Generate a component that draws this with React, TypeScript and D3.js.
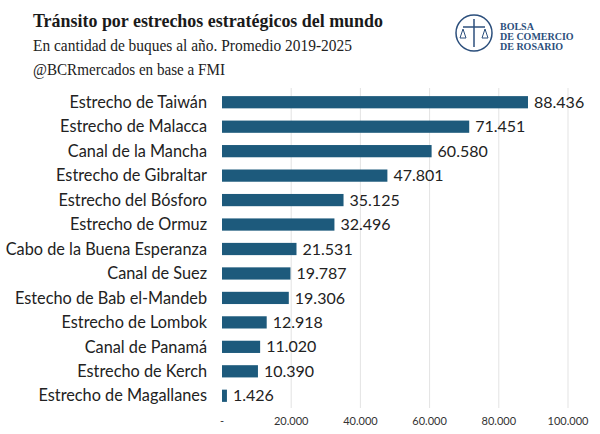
import React from "react";
import * as d3 from "d3";

const categories = ["Estrecho de Taiwán","Estrecho de Malacca","Canal de la Mancha","Estrecho de Gibraltar","Estrecho del Bósforo","Estrecho de Ormuz","Cabo de la Buena Esperanza","Canal de Suez","Estecho de Bab el-Mandeb","Estrecho de Lombok","Canal de Panamá","Estrecho de Kerch","Estrecho de Magallanes"];
const values = [88436,71451,60580,47801,35125,32496,21531,19787,19306,12918,11020,10390,1426];
const ticks = [0,20000,40000,60000,80000,100000];
const tickLabels = ["-","20.000","40.000","60.000","80.000","100.000"];

const fmt = (v: number) => d3.format(",")(v).replace(/,/g, ".");

export default function App() {
  const x = d3.scaleLinear().domain([0, 100000]).range([222, 568]);
  const y = d3.scaleBand().domain(categories).range([90, 408]).paddingInner(0.5).paddingOuter(0.25);
  const color = "#1d5a7c";
  return (
    <svg width={600} height={434} style={{ position: "absolute", left: 0, top: 0, background: "#fff" }}>
      <text x={33} y={27} fontFamily="Liberation Serif, serif" fontWeight="bold" fontSize={19} textLength={350} lengthAdjust="spacingAndGlyphs" fill="#1a1a1a">Tránsito por estrechos estratégicos del mundo</text>
      <text x={33} y={51} fontFamily="Liberation Serif, serif" fontSize={16.5} textLength={319} lengthAdjust="spacingAndGlyphs" fill="#222">En cantidad de buques al año. Promedio 2019-2025</text>
      <text x={33} y={75} fontFamily="Liberation Serif, serif" fontSize={16.5} textLength={192} lengthAdjust="spacingAndGlyphs" fill="#222">@BCRmercados en base a FMI</text>
      <g>
        <circle cx={474} cy={33} r={18} fill="none" stroke="#2c4f7c" strokeWidth={1.5} />
        <line x1={474} y1={19} x2={474} y2={47} stroke="#2c4f7c" strokeWidth={1.5} />
        <line x1={463} y1={27} x2={485} y2={27} stroke="#2c4f7c" strokeWidth={1.5} />
        <path d="M460,38 L463,29 L466,38 Z M482,38 L485,29 L488,38 Z" fill="none" stroke="#2c4f7c" />
        <text fontFamily="Liberation Serif, serif" fontWeight="bold" fontSize={10} fill="#2c4f7c">
          <tspan x={500} y={30}>BOLSA</tspan>
          <tspan x={500} y={40}>DE COMERCIO</tspan>
          <tspan x={500} y={50}>DE ROSARIO</tspan>
        </text>
      </g>
      {ticks.slice(1).map((t) => (
        <line key={t} x1={x(t)} x2={x(t)} y1={88} y2={408} stroke="#e3e3e3" strokeWidth={1} />
      ))}
      {ticks.map((t, i) => (
        <text key={t} x={x(t)} y={425} textAnchor="middle" fontFamily="Lato, sans-serif" fontSize={11} fill="#333">{tickLabels[i]}</text>
      ))}
      {categories.map((c, i) => {
        const yy = y(c)!;
        const h = y.bandwidth();
        return (
          <g key={c}>
            <text x={207} y={yy + h / 2} dy="0.35em" textAnchor="end" fontFamily="Lato, sans-serif" fontSize={16.3} fill="#222">{c}</text>
            <rect x={x(0)} y={yy} width={x(values[i]) - x(0)} height={h} fill={color} />
            <text x={x(values[i]) + 6} y={yy + h / 2} dy="0.35em" fontFamily="Lato, sans-serif" fontSize={16} fill="#222">{fmt(values[i])}</text>
          </g>
        );
      })}
    </svg>
  );
}
